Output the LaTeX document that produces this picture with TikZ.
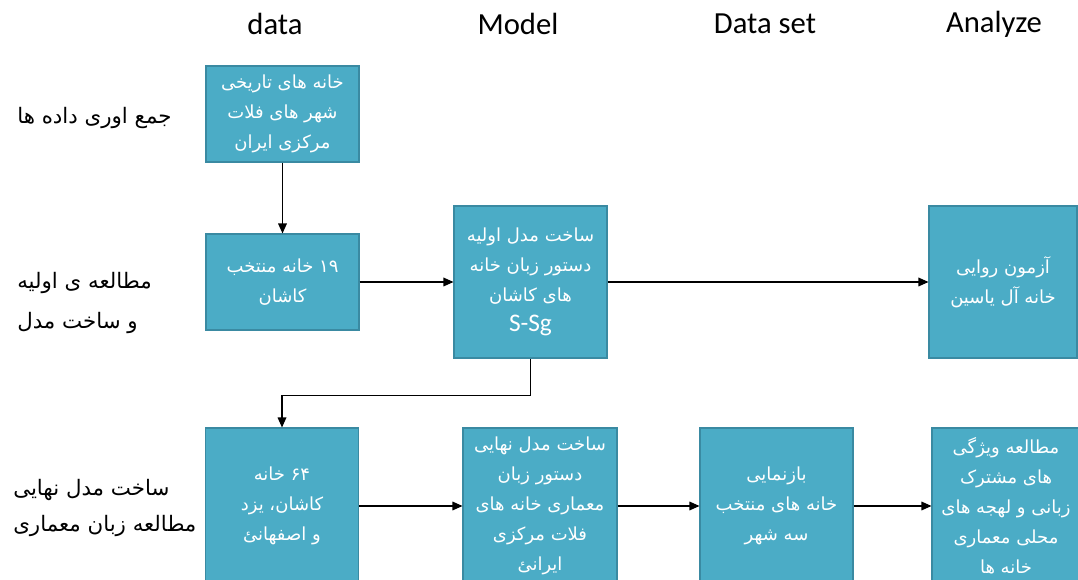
\documentclass[tikz,border=0pt]{standalone}
\usepackage{fontspec}
\setmainfont{Carlito}
\newfontfamily\arabicfont[Script=Arabic]{DejaVu Sans}
\TeXXeTstate=1
\usetikzlibrary{arrows.meta}
\definecolor{boxfill}{RGB}{75,172,198}
\definecolor{boxline}{RGB}{58,138,162}
\newcommand\rl[1]{\beginR #1\endR}

\begin{document}
\begin{tikzpicture}[x=0.75pt,y=-0.75pt,
  stage/.style={draw=boxline, line width=0.8pt, fill=boxfill, text=white,
    font=\arabicfont\fontsize{13.5}{22.5}\selectfont, align=center, inner sep=0pt,
    minimum width=114.75pt},
  head/.style={font=\fontsize{23}{27}\selectfont},
  side/.style={font=\arabicfont\fontsize{16}{30}\selectfont, align=left, anchor=west, inner sep=0pt},
  flow/.style={-{Triangle[length=7.5pt,width=6.5pt]}, line width=0.9pt}]
\clip (0,0) rectangle (1078,580);
\fill[white] (0,0) rectangle (1078,580);

% column headings
\node[head] (hdata)  at (275,24) {data};
\node[head] (hmodel) at (518,24) {Model};
\node[head] (hset)   at (765,24) {Data set};
\node[head] (hanal)  at (994,24) {Analyze};

% row labels
\node[side] (r1) at (17,118) {\rl{جمع اوری داده ها}};
\node[side] (r2) at (17,303) {\rl{مطالعه ی اولیه}\\\rl{و ساخت مدل}};
\node[side, font=\arabicfont\fontsize{16}{26.5}\selectfont] (r3) at (13,508)
  {\rl{ساخت مدل نهایی}\\\rl{مطالعه زبان معماری}};

% stages
\node[stage, minimum height=72pt] (b1) at (282.5,114)
  {\rl{خانه های تاریخی}\\\rl{شهر های فلات}\\\rl{مرکزی ایران}};
\node[stage, minimum height=72pt] (b2) at (282.5,282)
  {\rl{۱۹ خانه منتخب}\\\rl{کاشان}};
\node[stage, minimum height=114pt] (b3) at (530.5,282)
  {\rl{ساخت مدل اولیه}\\\rl{دستور زبان خانه}\\\rl{های کاشان}\\{\normalfont\fontsize{19}{22.5}\selectfont S-Sg}};
\node[stage, minimum height=114pt, minimum width=111pt] (b4) at (1003,282)
  {\rl{آزمون روایی}\\\rl{خانه آل یاسین}};
\node[stage, minimum height=117pt] (b5) at (282,506)
  {\rl{۶۴ خانه}\\\rl{کاشان، یزد}\\\rl{و اصفهانئ}};
\node[stage, minimum height=117pt, minimum width=115.5pt] (b6) at (540,506)
  {\rl{ساخت مدل نهایی}\\\rl{دستور زبان}\\\rl{معماری خانه های}\\\rl{فلات مرکزی}\\\rl{ایرانئ}};
\node[stage, minimum height=117pt] (b7) at (776.5,506)
  {\rl{بازنمایی}\\\rl{خانه های منتخب}\\\rl{سه شهر}};
\node[stage, minimum height=117pt, minimum width=111pt] (b8) at (1006,506)
  {\rl{مطالعه ویژگی}\\\rl{های مشترک}\\\rl{زبانی و لهجه های}\\\rl{محلی معماری}\\\rl{خانه ها}};

% connectors
\draw[flow] (b1) -- (b2);
\draw[flow] (b2) -- (b3);
\draw[flow] (b3) -- (b4);
\coordinate (bend) at ([yshift=-27.75pt]b3.south);
\draw[flow] (b3.south) -- (bend) -| (b5.north);
\draw[flow] (b5) -- (b6);
\draw[flow] (b6) -- (b7);
\draw[flow] (b7) -- (b8);
\end{tikzpicture}
\end{document}
